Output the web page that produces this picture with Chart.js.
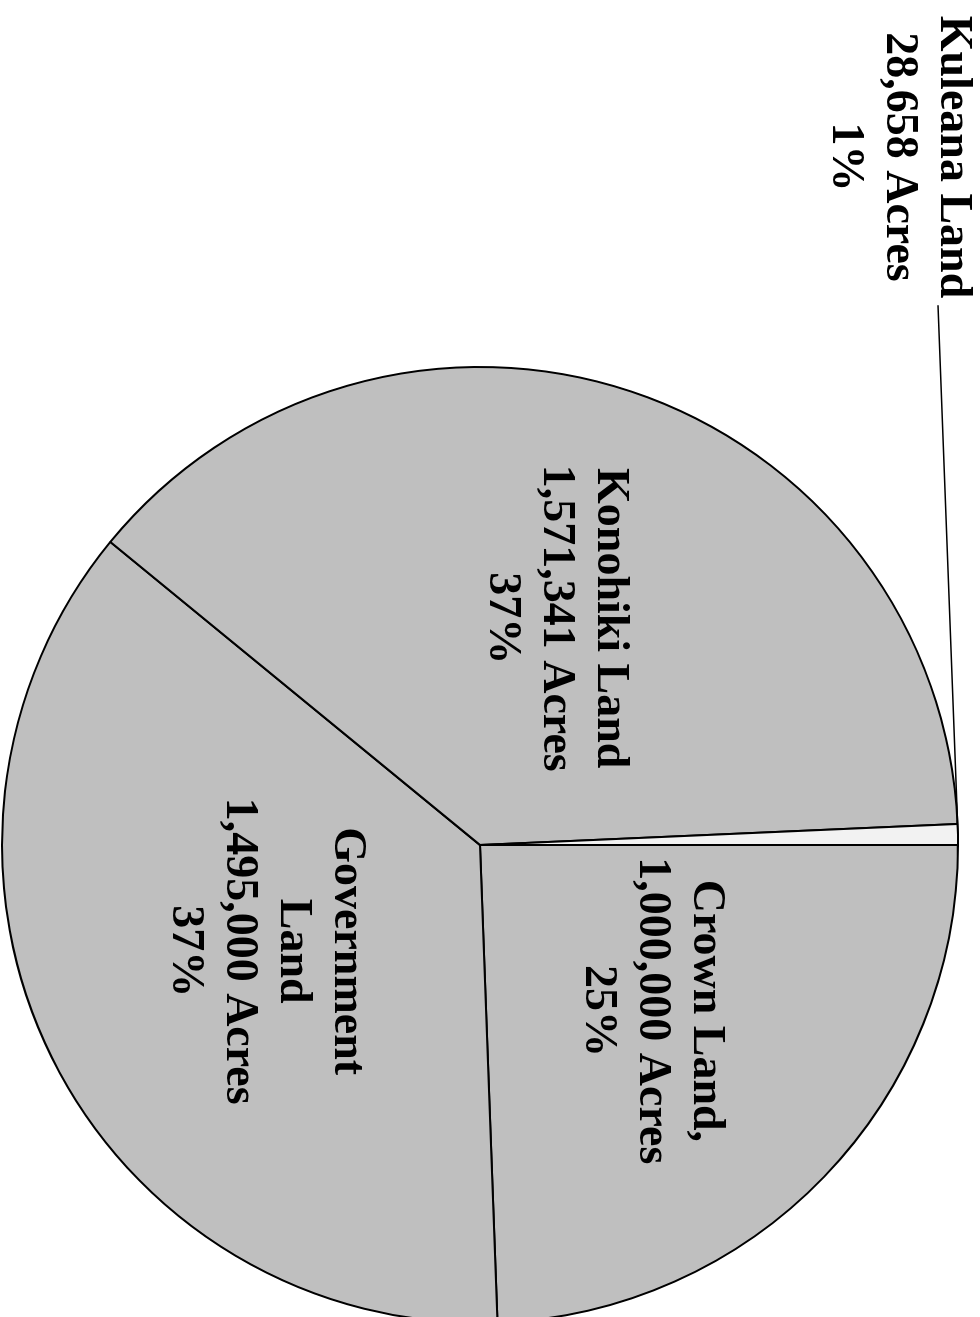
<!DOCTYPE html>
<html>
<head>
<meta charset="utf-8">
<script src="https://cdn.jsdelivr.net/npm/chart.js@4.4.1/dist/chart.umd.min.js"></script>
<style>
  html, body { margin: 0; padding: 0; background: #fff; overflow: hidden; width: 980px; height: 1317px; }
  /* chart is laid out landscape and turned a quarter clockwise */
  #holder { position: absolute; left: 0; top: 0; width: 1340px; height: 980px; transform-origin: 0 0; transform: translate(980px, 0) rotate(90deg); }
</style>
</head>
<body>
<div id="holder"><canvas id="terras" width="1340" height="980"></canvas></div>
<script>
const landNames = [['Crown Land,'], ['Government', 'Land'], ['Konohiki Land'], ['Kuleana Land']]
const acres = [1000000, 1495000, 1571341, 28658]
const percentLabels = ['25%', '37%', '37%', '1%']
const sliceColors = ['#bfbfbf', '#bfbfbf', '#bfbfbf', '#f2f2f2']

const labelFont = 'bold 46px "Liberation Serif"'
const lineHeight = 54

// writes name / acres / percent inside each slice, kuleana outside with a leader
const sliceLabels = {
  id: 'sliceLabels',
  afterDatasetsDraw(chart) {
    const ctx = chart.ctx
    const arcs = chart.getDatasetMeta(0).data
    ctx.save()
    ctx.font = labelFont
    ctx.fillStyle = '#000'
    ctx.textAlign = 'center'
    ctx.textBaseline = 'middle'
    arcs.forEach((arc, i) => {
      const {x, y, startAngle, endAngle, outerRadius} = arc.getProps(['x', 'y', 'startAngle', 'endAngle', 'outerRadius'], true)
      const lines = [...landNames[i], acres[i].toLocaleString('en-US') + ' Acres', percentLabels[i]]
      const mid = (startAngle + endAngle) / 2
      let cx, cy
      if (i === 3) {
        cx = 157
        cy = 81
        const textEnd = cx + ctx.measureText(lines[0]).width / 2
        const firstLine = cy - lineHeight
        ctx.beginPath()
        ctx.moveTo(textEnd + 7, firstLine + 15)
        ctx.lineTo(x + outerRadius * Math.cos(mid), y + outerRadius * Math.sin(mid))
        ctx.lineWidth = 1.5
        ctx.strokeStyle = '#000'
        ctx.stroke()
      } else {
        cx = x + outerRadius * 0.5 * Math.cos(mid)
        cy = y + outerRadius * 0.5 * Math.sin(mid)
      }
      lines.forEach((t, j) => ctx.fillText(t, cx, cy + (j - (lines.length - 1) / 2) * lineHeight))
    })
    ctx.restore()
  }
}

new Chart(document.getElementById('terras'), {
  type: 'pie',
  data: {
    labels: landNames.map(n => n.join(' ')),
    datasets: [
      {
        data: acres,
        backgroundColor: sliceColors,
        borderColor: '#000',
        borderWidth: 2
      }
    ]
  },
  options: {
    responsive: false,
    animation: false,
    layout: {
      padding: { left: 366, right: 16, top: 21, bottom: 1 }
    },
    plugins: {
      legend: { display: false },
      tooltip: { enabled: false }
    }
  },
  plugins: [sliceLabels]
})
</script>
</body>
</html>
